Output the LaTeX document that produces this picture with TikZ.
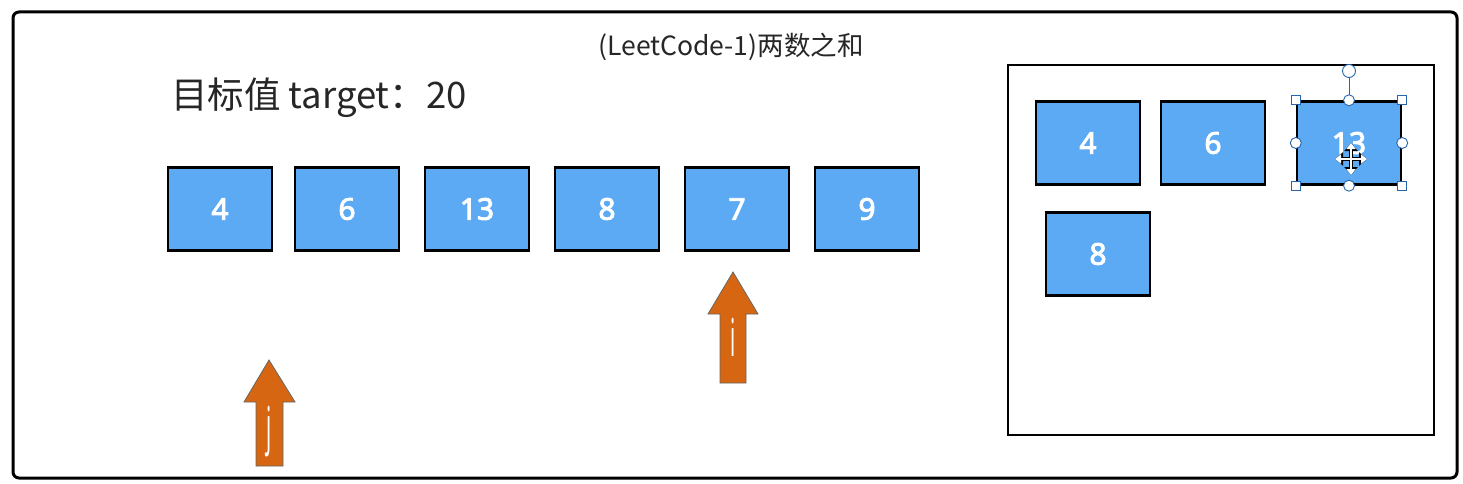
\documentclass[tikz,border=0pt]{standalone}
\usepackage{fontspec}
\setmainfont{Noto Sans}
\newfontfamily\cjk{Noto Sans CJK SC}
\newfontfamily\numfont{Noto Sans}[AutoFakeBold=3]
\usetikzlibrary{arrows.meta}
\definecolor{boxblue}{RGB}{92,170,244}
\definecolor{ptrorange}{RGB}{214,102,18}
\definecolor{handleblue}{RGB}{40,100,170}
\tikzset{
  numbox/.style={draw=black, line width=2.4pt, fill=boxblue, minimum width=104pt, minimum height=83pt, inner sep=0pt,
    text=white, font=\numfont\fontsize{30}{32}\selectfont\bfseries},
  ptr/.style={fill=ptrorange, draw=black!60, line width=0.8pt},
  ptrlabel/.style={text=white, font=\fontsize{20}{20}\selectfont, yscale=2.6, inner sep=0pt},
  sqhandle/.style={draw=handleblue, fill=white, line width=0.9pt, minimum size=9pt, inner sep=0pt},
  cirhandle/.style={circle, draw=handleblue, fill=white, line width=0.9pt, minimum size=11pt, inner sep=0pt}
}
\begin{document}
\begin{tikzpicture}[x=1pt,y=-1pt]
\useasboundingbox (0,0) rectangle (1463,484);
\fill[white] (0,0) rectangle (1463,484);
% outer frame
\draw[line width=3pt, rounded corners=6pt] (13,12) rectangle (1457,478);
% title
\node[font=\cjk\fontsize{26.5}{28}\selectfont, text=black!85] (title) at (731,47) {(LeetCode-1)两数之和};
\node[font=\cjk\fontsize{36.5}{38}\selectfont, text=black!85, anchor=west, inner sep=0pt] (target) at (171,98) {目标值 target：20};
% array
\node[numbox] (a0) at (220,209) {4};
\node[numbox] (a1) at (347,209) {6};
\node[numbox] (a2) at (477,209) {13};
\node[numbox] (a3) at (607,209) {8};
\node[numbox] (a4) at (737,209) {7};
\node[numbox] (a5) at (867,209) {9};
% right panel
\draw[line width=2.6pt] (1008,65) rectangle (1434,435);
\node[numbox] (m0) at (1088,143) {4};
\node[numbox] (m1) at (1213,143) {6};
\node[numbox] (m2) at (1349,143) {13};
\node[numbox] (m3) at (1098,254) {8};
% selection handles on 13
\draw[handleblue, line width=0.9pt] (m2.north) -- (1349,71);
\node[cirhandle, minimum size=13pt] (rot) at (1349,71) {};
\node[sqhandle] (h1) at (m2.north west) {};
\node[sqhandle] (h2) at (m2.north east) {};
\node[sqhandle] (h3) at (m2.south west) {};
\node[sqhandle] (h4) at (m2.south east) {};
\node[cirhandle] (h5) at (m2.north) {};
\node[cirhandle] (h6) at (m2.south) {};
\node[cirhandle] (h7) at (m2.west) {};
\node[cirhandle] (h8) at (m2.east) {};
% move cursor
\coordinate (cur) at (1351,159);
\foreach \d in {(0,-16),(0,16),(-16,0),(16,0)}{
  \draw[black, line width=4.5pt, -{Triangle[length=8pt,width=13pt]}] (cur) -- ++\d;
}
\foreach \d in {(0,-16),(0,16),(-16,0),(16,0)}{
  \draw[white, line width=2.2pt, -{Triangle[length=6pt,width=9pt]}] (cur) -- ++\d;
}
% pointer j
\draw[ptr] (256,466) -- (256,402) -- (244,402) -- (269,360) -- (295,402) -- (283,402) -- (283,466) -- cycle;
\node[ptrlabel] (jl) at (269,432) {j};
% pointer i
\draw[ptr] (720,383) -- (720,314) -- (708,314) -- (733,272) -- (758,314) -- (746,314) -- (746,383) -- cycle;
\node[ptrlabel] (il) at (733,337) {i};
\end{tikzpicture}
\end{document}
